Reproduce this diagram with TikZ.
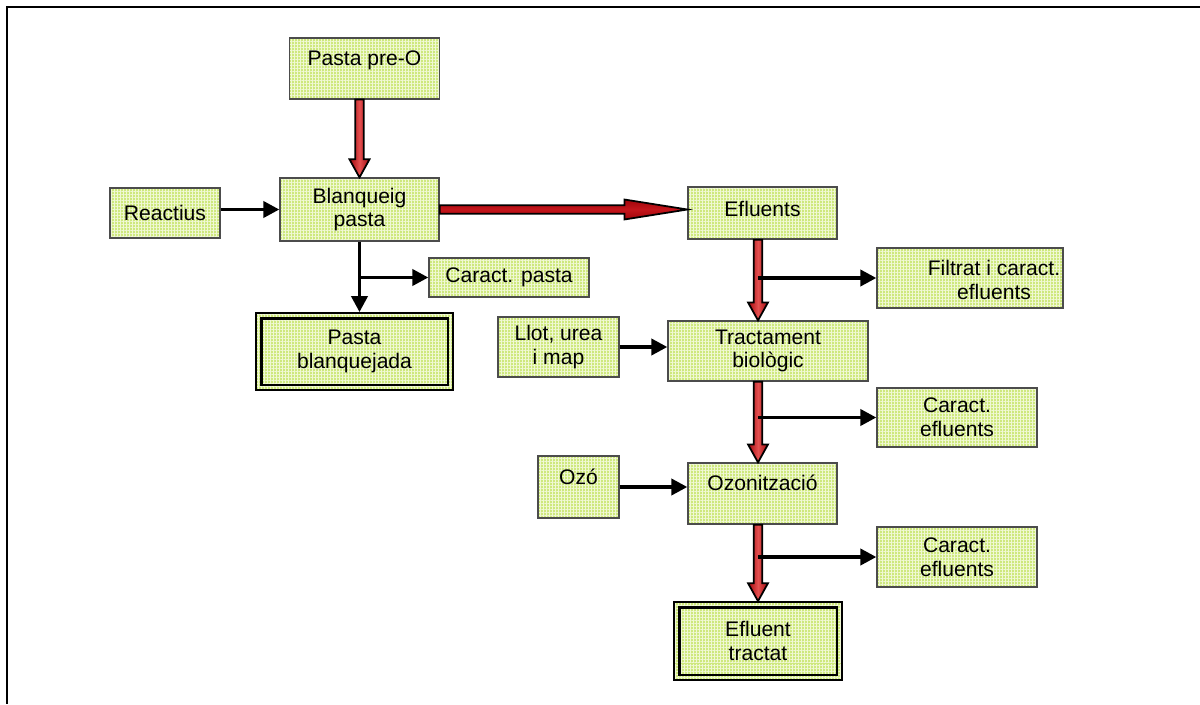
\documentclass[tikz,border=0pt]{standalone}
\usepackage{fontspec}
\setmainfont{Liberation Sans}
\usetikzlibrary{arrows.meta,calc,patterns.meta}
\definecolor{leaf}{RGB}{206,232,125}
\definecolor{leafgrid}{RGB}{240,248,212}
\definecolor{flowred}{RGB}{196,22,28}
\definecolor{flowdark}{RGB}{160,5,10}
\definecolor{flowmid}{RGB}{228,80,80}
\tikzset{
  >={Triangle[length=3.2mm,width=3.2mm]},
  box/.style={draw=black!70,line width=0.25mm,preaction={fill=#1},
    preaction={pattern={Hatch[angle=0,distance=0.6mm,line width=0.1mm]},pattern color=leafgrid},
    inner sep=1mm,align=center,font=\fontsize{12}{13.5}\selectfont},
  box/.default=leaf,
  final/.style={box,draw=black,line width=0.35mm},
  raised/.style={text depth=#1},
  link/.style={->,line width=0.75mm},
  % hollow red flow arrows
  fat/.style={draw=black,line width=0.35mm,line join=miter,
    to path={let \p1=($(\tikztotarget)!#1!(\tikztostart)$) in
      ($(\tikztostart)!0.85mm!90:(\tikztotarget)$)
      -- ($(\p1)!0.85mm!-90:(\tikztostart)$)
      -- ($(\p1)!2mm!-90:(\tikztostart)$)
      -- (\tikztotarget)
      -- ($(\p1)!2mm!90:(\tikztostart)$)
      -- ($(\p1)!0.85mm!90:(\tikztostart)$)
      -- ($(\tikztostart)!0.85mm!-90:(\tikztotarget)$) -- cycle}},
  fat/.default=3.6mm,
  down/.style={left color=flowdark,right color=flowdark,middle color=flowmid},
  across/.style={top color=flowdark,bottom color=flowdark,middle color=flowred},
}
\begin{document}
\begin{tikzpicture}[x=0.2mm,y=-0.2mm]
  \useasboundingbox (0,0) rectangle (1200,704);
  \draw[line width=0.45mm] (1200,7) -- (7,7) -- (7,704);
  % pulp line
  \node[box,minimum width=30mm,minimum height=12.2mm,raised=12pt] (pre) at (364.5,68.5) {Pasta pre-O};
  \node[box,minimum width=31.8mm,minimum height=12.6mm] (blanq) at (359.5,209.5) {Blanqueig\\pasta};
  \node[box,minimum width=22mm,minimum height=10mm] (reac) at (165,213) {Reactius};
  \node[box,minimum width=32mm,minimum height=7.8mm] (carp) at (509,277.5) {Caract. pasta};
  \node[final,minimum width=39.4mm,minimum height=15.4mm] (pblanq) at (354.5,351.5) {Pasta\\blanquejada};
  % effluent line
  \node[box,minimum width=29.8mm,minimum height=10.4mm,raised=5pt] (eflu) at (762.5,213) {Efluents};
  \node[box,minimum width=37.2mm,minimum height=12mm] (filt) at (970,278) {};
  \node[align=center,font=\fontsize{12}{13.5}\selectfont] (filtxt) at (994,280) {Filtrat i caract.\\efluents};
  \node[box,minimum width=40mm,minimum height=12mm] (trac) at (768,351) {Tractament\\biològic};
  \node[box,minimum width=24.2mm,minimum height=12mm] (llot) at (558.5,347) {Llot, urea\\i map};
  \node[box,minimum width=32mm,minimum height=11.8mm] (car1) at (957,417.5) {Caract.\\efluents};
  \node[box,minimum width=16.2mm,minimum height=12.4mm,raised=12pt] (ozo) at (578.5,487) {Ozó};
  \node[box,minimum width=29.8mm,minimum height=12.2mm,raised=12pt] (ozon) at (762.5,493.5) {Ozonització};
  \node[box,minimum width=32mm,minimum height=12mm] (car2) at (957,557) {Caract.\\efluents};
  \node[final,minimum width=33.6mm,minimum height=15.6mm] (eflt) at (758,641) {Efluent\\tractat};
  \foreach \n in {pblanq,eflt}
    \draw[line width=0.55mm] ($(\n.south west)+(6,-6)$) rectangle ($(\n.north east)+(-6,6)$);

  \draw[fat,down] (pre.south -| blanq.north) to (blanq.north);
  \draw[fat=12.6mm,across] (blanq.east) to (blanq.east -| eflu.west);
  \draw[fat,down] (eflu.south -| eflt.north) to (trac.north -| eflt.north);
  \draw[fat,down] (trac.south -| eflt.north) to (ozon.north -| eflt.north);
  \draw[fat,down] (ozon.south -| eflt.north) to (eflt.north);

  \draw[link] (reac.east |- blanq.west) -- (blanq.west);
  \draw[link] (llot.east) -- (llot.east -| trac.west);
  \draw[link] (ozo.east) -- (ozo.east -| ozon.west);
  \draw[link] (blanq.south) -- (blanq.south |- pblanq.north);
  \draw[link] (carp.west -| blanq.south) -- (carp.west);
  \foreach \n in {filt,car1,car2}
    \draw[link] (\n.west -| eflt.north) -- (\n.west);
\end{tikzpicture}
\end{document}
